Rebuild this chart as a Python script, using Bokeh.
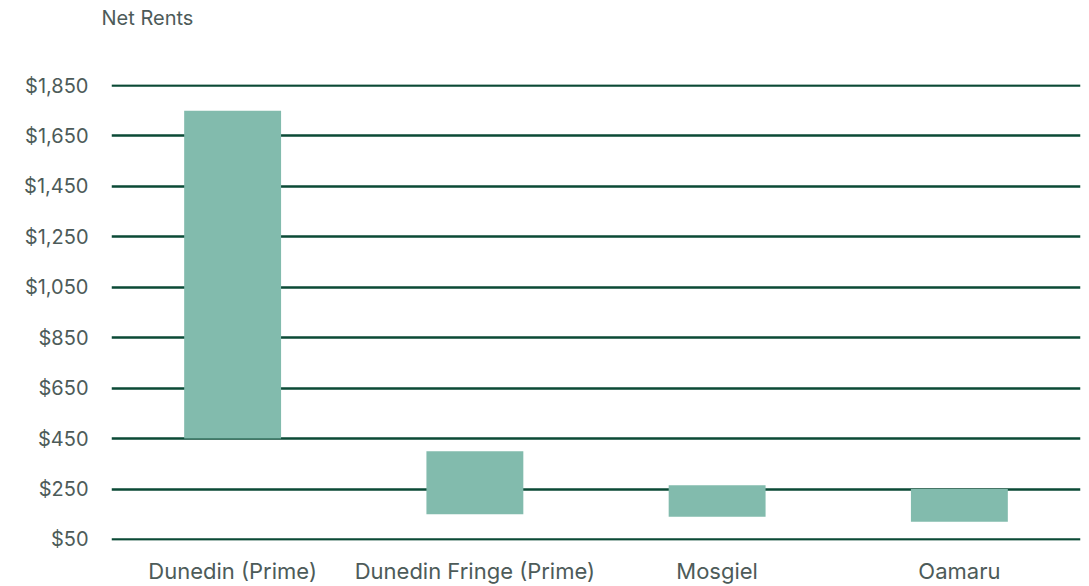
from bokeh.plotting import figure
from bokeh.models import ColumnDataSource, FixedTicker, NumeralTickFormatter, Range1d, FactorRange
from bokeh.embed import file_html
from bokeh.resources import INLINE

categories = ["Dunedin (Prime)", "Dunedin Fringe (Prime)", "Mosgiel", "Oamaru"]
rent_low = [450, 150, 140, 120]
rent_high = [1750, 400, 265, 250]
y_ticks = [50, 250, 450, 650, 850, 1050, 1250, 1450, 1650, 1850]

src = ColumnDataSource(dict(cat=categories, low=rent_low, high=rent_high))

p = figure(width=1089, height=586, x_range=FactorRange(*categories, range_padding=0),
           y_range=Range1d(46, 1854), output_backend="svg", toolbar_location=None,
           min_border_left=111, min_border_right=9, min_border_top=84, min_border_bottom=40)
p.outline_line_color = None
p.background_fill_color = "white"
p.border_fill_color = "white"

p.vbar(x="cat", bottom="low", top="high", width=0.4, source=src,
       fill_color="#82bbad", line_color=None)

text_color = "#4d5b59"
font = "Inter"

p.yaxis.ticker = FixedTicker(ticks=y_ticks)
p.yaxis.formatter = NumeralTickFormatter(format="$0,0")
p.yaxis.axis_line_color = None
p.yaxis.major_tick_line_color = None
p.yaxis.minor_tick_line_color = None
p.yaxis.major_label_standoff = 17
p.yaxis.major_label_text_font = font
p.yaxis.major_label_text_font_size = "20px"
p.yaxis.major_label_text_color = text_color

p.xaxis.axis_line_color = None
p.xaxis.major_tick_line_color = None
p.xaxis.major_label_standoff = 11
p.xaxis.major_label_text_font = font
p.xaxis.major_label_text_font_size = "22px"
p.xaxis.major_label_text_color = text_color

p.xgrid.grid_line_color = None
p.ygrid.ticker = FixedTicker(ticks=y_ticks)
p.ygrid.grid_line_color = "#0b4a36"
p.ygrid.grid_line_width = 2.5
p.ygrid.level = "underlay"

p.title.text = "Net Rents\n \n "
p.title.align = "left"
p.title.offset = -10
p.title.standoff = 8
p.title.text_font = font
p.title.text_font_size = "20px"
p.title.text_line_height = 1.05
p.title.text_font_style = "normal"
p.title.text_color = text_color

open("out.html", "w").write(file_html(p, INLINE))
